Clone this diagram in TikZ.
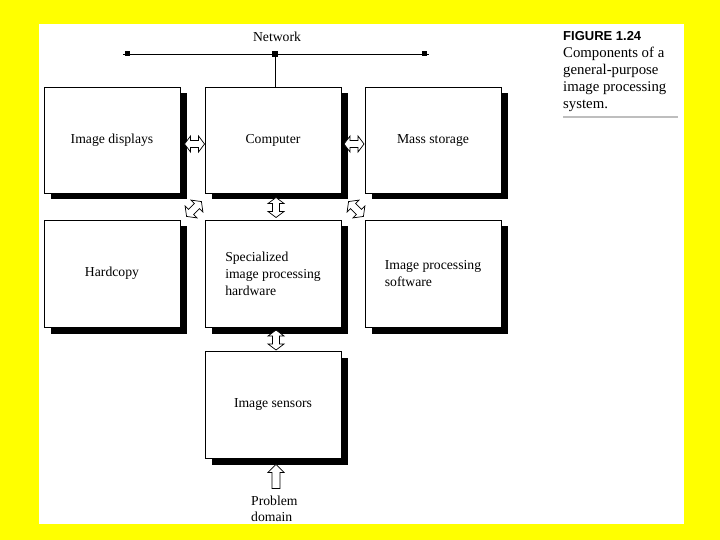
\documentclass[tikz,border=0pt]{standalone}
\usepackage{fontspec}
\setmainfont{Liberation Serif}
\newfontfamily\capsans{Liberation Sans}
\usetikzlibrary{shadows,calc}
\definecolor{bgyellow}{RGB}{255,255,0}
\definecolor{rulegray}{RGB}{190,190,190}
\tikzset{
  box/.style={draw, fill=white, line width=0.9pt, minimum width=136pt, minimum height=106pt,
    inner sep=0pt, font=\fontsize{13.7}{17}\selectfont, align=left,
    drop shadow={shadow xshift=6.5pt, shadow yshift=-6.5pt, fill=black, opacity=1}},
  lbl/.style={inner sep=0pt, font=\fontsize{13.7}{17}\selectfont},
  captxt/.style={inner sep=0pt, anchor=base west, font=\fontsize{14.8}{17}\selectfont},
  dblarr/.pic={\draw[fill=white, line width=0.7pt] (-10,0)--(-4,-8)--(-4,-3.5)--(4,-3.5)--(4,-8)--(10,0)--(4,8)--(4,3.5)--(-4,3.5)--(-4,8)--cycle;},
  uparr/.pic={\draw[fill=white, line width=0.7pt] (0,-12)--(-8,-4)--(-4,-4)--(-4,12)--(4,12)--(4,-4)--(8,-4)--cycle;}
}
\begin{document}
\begin{tikzpicture}[x=1pt,y=-1pt]
\useasboundingbox (0,0) rectangle (720,540);
\fill[bgyellow] (0,0) rectangle (720,540);
\fill[white] (39,24) rectangle (684,524);

% boxes
\node[box] (disp) at (112,140) {Image displays};
\node[box] (comp) at (273,140) {Computer};
\node[box] (mass) at (433,140) {Mass storage};
\node[box, minimum height=107pt] (hard) at (112,273.5) {Hardcopy};
\node[box, minimum height=107pt] (spec) at (273,273.5) {Specialized\\image processing\\hardware};
\node[box, minimum height=107pt] (soft) at (433,273.5) {Image processing\\software};
\node[box, minimum height=107pt] (sens) at (273,404.5) {Image sensors};

% network
\node[lbl] (net) at (277,37) {Network};
\coordinate (nl) at (123,54);
\coordinate (nr) at (429,54);
\coordinate (nd) at ($(comp.north)+(2,-33)$);
\draw[line width=0.9pt] (nl) -- (nr);
\fill ($(nl)+(2,-2.5)$) rectangle ($(nl)+(7,2.5)$);
\fill ($(nr)+(-7,-2.5)$) rectangle ($(nr)+(-2,2.5)$);
\fill ($(nd)+(-3,-3)$) rectangle ($(nd)+(3,3)$);
\draw[line width=0.9pt] (nd) -- ($(comp.north)+(2,0)$);

% connectors
\pic at ($(disp.east)!0.5!(comp.west)+(2,4)$) {dblarr};
\pic at ($(comp.east)!0.5!(mass.west)+(1,4)$) {dblarr};
\pic[rotate=90] at ($(comp.south)!0.5!(spec.north)+(3,1)$) {dblarr};
\pic[rotate=90] at ($(spec.south)!0.5!(sens.north)+(3,1)$) {dblarr};
\pic[rotate=45, scale=1.05] at (194,209) {dblarr};
\pic[rotate=-45, scale=1.05] at (356,209) {dblarr};

% problem domain
\node[lbl, anchor=west, align=left, font=\fontsize{13.7}{16}\selectfont] (prob) at (251,509) {Problem\\domain};
\pic at ($(sens.south)+(3,18)$) {uparr};

% caption
\node[captxt, font=\capsans\bfseries\fontsize{13}{16}\selectfont] (c1) at (563,41) {FIGURE 1.24};
\node[captxt] (c2) at (563,58) {Components of a};
\node[captxt] (c3) at (563,75) {general-purpose};
\node[captxt] (c4) at (563,92) {image processing};
\node[captxt] (c5) at (563,108.5) {system.};
\draw[rulegray, line width=1.2pt] (563,117) -- (678,117);
\end{tikzpicture}
\end{document}
